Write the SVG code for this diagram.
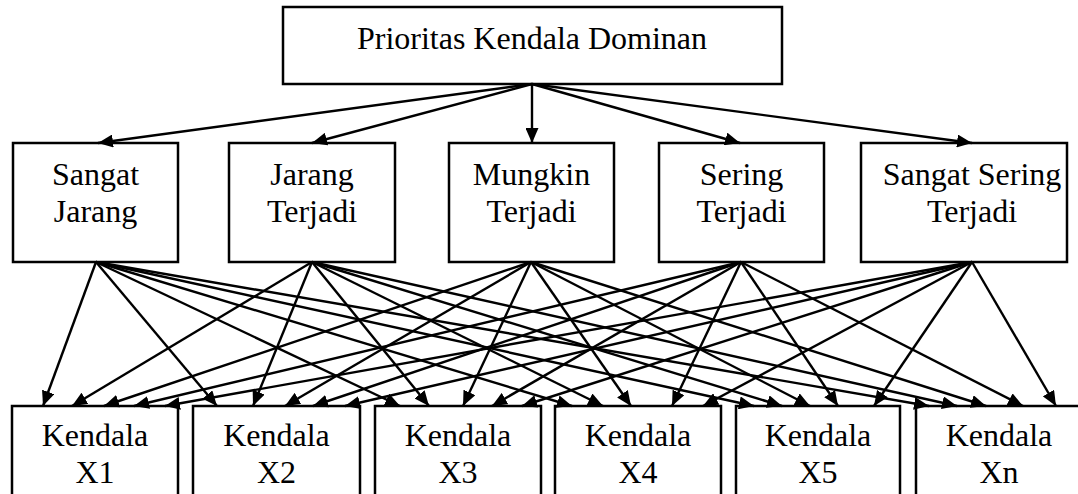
<svg xmlns="http://www.w3.org/2000/svg" width="1078" height="494" viewBox="0 0 1078 494">
<style>
.box{fill:#fff;stroke:#000;stroke-width:2.5}
.t{font-family:"Liberation Serif","Times New Roman",serif;font-size:32px;fill:#000;text-anchor:middle}
.c line{stroke:#000;stroke-width:2.4;marker-end:url(#ah)}
</style>
<defs>
<marker id="ah" markerUnits="userSpaceOnUse" markerWidth="15" markerHeight="13" viewBox="0 0 15 13" refX="15" refY="6.5" orient="auto">
<path d="M0,0 L15,6.5 L0,13 Z" fill="#000"/>
</marker>
</defs>
<rect width="1078" height="494" fill="#fff"/>
<g id="top"><rect class="box" x="283" y="7" width="499" height="77"/><text class="t" x="532" y="49">Prioritas Kendala Dominan</text></g>
<g id="m1"><rect class="box" x="13" y="143" width="165" height="119"/><text class="t" x="95.5" y="185">Sangat</text><text class="t" x="95.5" y="222">Jarang</text></g>
<g id="m2"><rect class="box" x="229" y="143" width="166" height="119"/><text class="t" x="312" y="185">Jarang</text><text class="t" x="312" y="222">Terjadi</text></g>
<g id="m3"><rect class="box" x="449" y="143" width="165" height="119"/><text class="t" x="531.5" y="185">Mungkin</text><text class="t" x="531.5" y="222">Terjadi</text></g>
<g id="m4"><rect class="box" x="659" y="143" width="165" height="119"/><text class="t" x="741.5" y="185">Sering</text><text class="t" x="741.5" y="222">Terjadi</text></g>
<g id="m5"><rect class="box" x="861" y="143" width="206" height="119"/><text class="t" x="972" y="185">Sangat Sering</text><text class="t" x="972" y="222">Terjadi</text></g>
<g id="b1"><rect class="box" x="12" y="406" width="166" height="110"/><text class="t" x="95" y="446">Kendala</text><text class="t" x="95" y="483">X1</text></g>
<g id="b2"><rect class="box" x="193" y="406" width="167" height="110"/><text class="t" x="276.5" y="446">Kendala</text><text class="t" x="276.5" y="483">X2</text></g>
<g id="b3"><rect class="box" x="375" y="406" width="166" height="110"/><text class="t" x="458" y="446">Kendala</text><text class="t" x="458" y="483">X3</text></g>
<g id="b4"><rect class="box" x="555" y="406" width="166" height="110"/><text class="t" x="638" y="446">Kendala</text><text class="t" x="638" y="483">X4</text></g>
<g id="b5"><rect class="box" x="736" y="406" width="164" height="110"/><text class="t" x="818" y="446">Kendala</text><text class="t" x="818" y="483">X5</text></g>
<g id="b6"><rect class="box" x="916" y="406" width="166" height="110"/><text class="t" x="999" y="446">Kendala</text><text class="t" x="999" y="483">Xn</text></g>
<g id="connectors" class="c">
<line x1="532" y1="84" x2="98" y2="143"/>
<line x1="532" y1="84" x2="312" y2="143"/>
<line x1="532" y1="84" x2="532" y2="143"/>
<line x1="532" y1="84" x2="740" y2="143"/>
<line x1="532" y1="84" x2="972" y2="143"/>
<line x1="96" y1="262" x2="43" y2="406"/>
<line x1="96" y1="262" x2="217" y2="406"/>
<line x1="96" y1="262" x2="400" y2="406"/>
<line x1="96" y1="262" x2="572" y2="406"/>
<line x1="96" y1="262" x2="754" y2="406"/>
<line x1="96" y1="262" x2="929" y2="406"/>
<line x1="312" y1="262" x2="72" y2="406"/>
<line x1="312" y1="262" x2="253" y2="406"/>
<line x1="312" y1="262" x2="429" y2="406"/>
<line x1="312" y1="262" x2="603" y2="406"/>
<line x1="312" y1="262" x2="782" y2="406"/>
<line x1="312" y1="262" x2="957" y2="406"/>
<line x1="531" y1="262" x2="104" y2="406"/>
<line x1="531" y1="262" x2="285" y2="406"/>
<line x1="531" y1="262" x2="463" y2="406"/>
<line x1="531" y1="262" x2="631" y2="406"/>
<line x1="531" y1="262" x2="810" y2="406"/>
<line x1="531" y1="262" x2="986" y2="406"/>
<line x1="741" y1="262" x2="134" y2="406"/>
<line x1="741" y1="262" x2="313" y2="406"/>
<line x1="741" y1="262" x2="492" y2="406"/>
<line x1="741" y1="262" x2="672" y2="406"/>
<line x1="741" y1="262" x2="838" y2="406"/>
<line x1="741" y1="262" x2="1023" y2="406"/>
<line x1="972" y1="262" x2="165" y2="406"/>
<line x1="972" y1="262" x2="345" y2="406"/>
<line x1="972" y1="262" x2="522" y2="406"/>
<line x1="972" y1="262" x2="703" y2="406"/>
<line x1="972" y1="262" x2="874" y2="406"/>
<line x1="972" y1="262" x2="1056" y2="406"/>
</g>
</svg>
